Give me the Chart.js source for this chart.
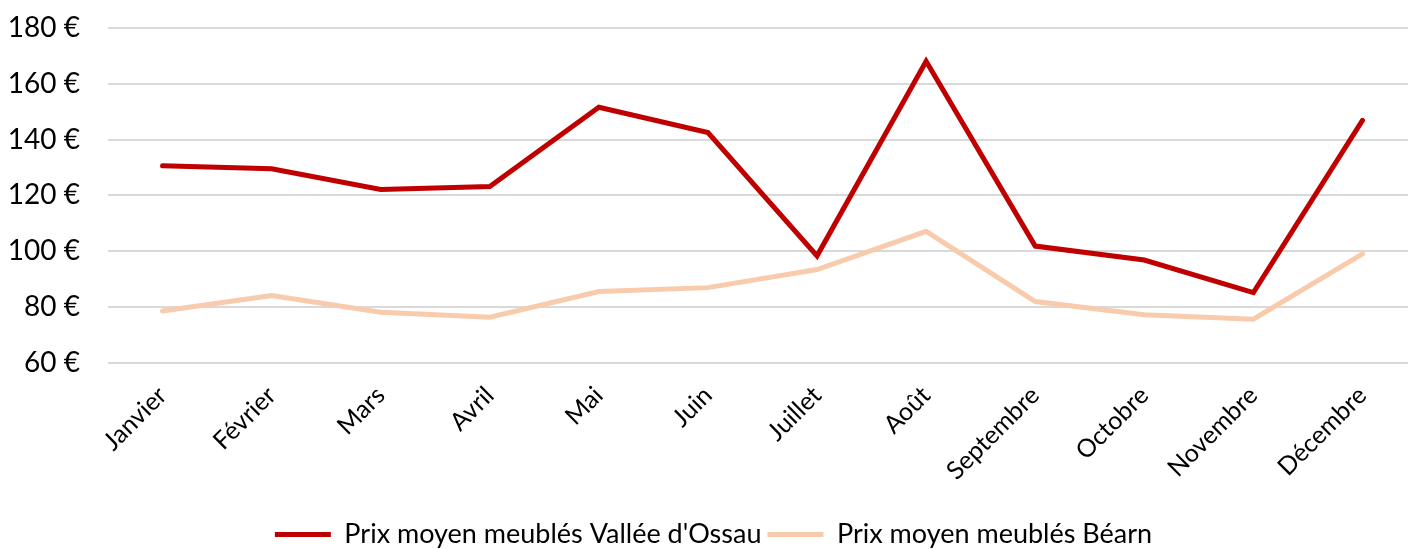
<!DOCTYPE html>
<html>
<head>
<meta charset="utf-8">
<script src="https://cdn.jsdelivr.net/npm/chart.js@4/dist/chart.umd.min.js"></script>
<style>
  html, body { margin: 0; padding: 0; background: #fff; overflow: hidden; }
  #wrap { width: 1417px; height: 549px; position: relative; }
</style>
</head>
<body>
<div id="wrap"><canvas id="c"></canvas></div>
<script>
const categories = ['Janvier','Février','Mars','Avril','Mai','Juin','Juillet','Août','Septembre','Octobre','Novembre','Décembre'];
const ossauValues = [130.6, 129.5, 122.1, 123.2, 151.6, 142.5, 98.3, 168.1, 101.8, 96.8, 85.1, 146.9];
const bearnValues = [78.5, 84.1, 78.1, 76.3, 85.5, 86.9, 93.4, 107.1, 81.9, 77.2, 75.6, 99.0];
const seriesNames = ["Prix moyen meublés Vallée d'Ossau", 'Prix moyen meublés Béarn'];
const yTicks = [60, 80, 100, 120, 140, 160, 180];

const FONT = 'Lato, "Noto Sans", sans-serif';

new Chart(document.getElementById('c'), {
  type: 'line',
  data: {
    labels: categories,
    datasets: [
      { label: seriesNames[0], data: ossauValues, borderColor: '#C00000', backgroundColor: '#C00000',
        borderWidth: 5, pointRadius: 0, tension: 0, borderCapStyle: 'round' },
      { label: seriesNames[1], data: bearnValues, borderColor: '#F8CBAD', backgroundColor: '#F8CBAD',
        borderWidth: 5, pointRadius: 0, tension: 0, borderCapStyle: 'round' }
    ]
  },
  options: {
    responsive: true,
    maintainAspectRatio: false,
    animation: false,
    layout: { padding: { top: 28, left: 10, right: 0, bottom: -9 } },
    plugins: {
      tooltip: { enabled: false },
      legend: {
        position: 'bottom',
        labels: {
          font: { family: FONT, size: 27 },
          color: '#000',
          usePointStyle: true,
          pointStyle: 'line',
          pointStyleWidth: 56,
          padding: 6
        }
      }
    },
    scales: {
      x: {
        offset: true,
        grid: { display: false },
        border: { display: false },
        afterFit: (s) => { s.paddingLeft = 0; s.paddingRight = 0; s.height += 19; },
        ticks: {
          color: '#000',
          font: { family: FONT, size: 25 },
          maxRotation: 45, minRotation: 45,
          padding: 10
        }
      },
      y: {
        min: yTicks[0], max: yTicks[yTicks.length - 1],
        afterBuildTicks: (axis) => { axis.ticks = yTicks.map(v => ({ value: v })); },
        afterFit: (s) => { s.paddingTop = 0; s.paddingBottom = 0; s.width = 98; },
        grid: { color: '#d9d9d9', lineWidth: 2, drawTicks: false },
        border: { display: false },
        ticks: {
          color: '#000',
          font: { family: FONT, size: 28 },
          padding: 28,
          callback: (v) => v + ' €'
        }
      }
    }
  }
});
</script>
</body>
</html>
